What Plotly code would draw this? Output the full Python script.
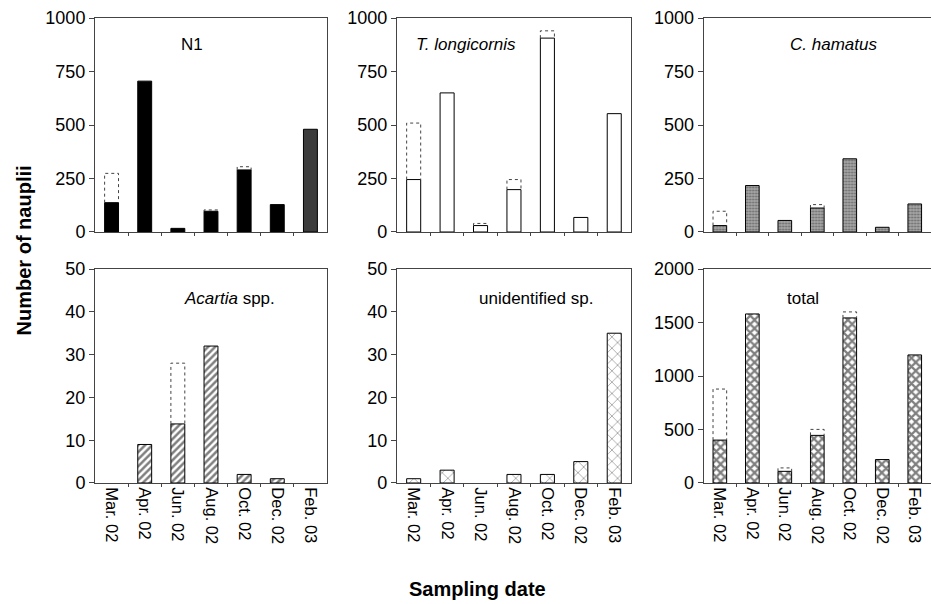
import plotly.graph_objects as go
from plotly.subplots import make_subplots

dates = ["Mar. 02", "Apr. 02", "Jun. 02", "Aug. 02", "Oct. 02", "Dec. 02", "Feb. 03"]

# solid (lower) values and dotted upper values per panel
n1_low = [137, 705, 17, 97, 290, 128, 480]
n1_up = [274, 705, 17, 103, 305, 128, 480]
tl_low = [245, 650, 30, 198, 906, 68, 553]
tl_up = [509, 650, 40, 245, 940, 68, 553]
ch_low = [30, 217, 54, 112, 342, 22, 131]
ch_up = [97, 217, 54, 128, 342, 22, 131]
ac_low = [0, 9, 13.8, 32, 2, 1, 0]
ac_up = [0, 9, 28, 32, 2, 1, 0]
un_low = [1, 3, 0, 2, 2, 5, 35]
un_up = [1, 3, 0, 2, 2, 5, 35]
tot_low = [401, 1580, 109, 445, 1543, 219, 1197]
tot_up = [878, 1580, 141, 501, 1599, 219, 1197]

titles = ["N1", "<i>T. longicornis</i>", "<i>C. hamatus</i>",
          "<i>Acartia</i> spp.", "unidentified sp.", "total"]
ymax = [1000, 1000, 1000, 50, 50, 2000]
ytickvals = [[0, 250, 500, 750, 1000]] * 3 + [[0, 10, 20, 30, 40, 50]] * 2 + [[0, 500, 1000, 1500, 2000]]

BW = 0.42
FONT = "Liberation Sans, Arial, sans-serif"

fig = make_subplots(rows=2, cols=3)

xdom = [[0.0, 0.2775], [0.3612, 0.6411], [0.728, 1.0]]
ydom = [[0.5398, 1.0], [0.0, 0.4602]]

styles = [
    dict(color=["#000000"] * 6 + ["#3c3c3c"]),
    dict(color="white"),
    dict(color="#8a8a8a", pattern=dict(shape=".", fgcolor="#2e2e2e", bgcolor="#a8a8a8", size=3, solidity=0.4)),
    dict(color="white", pattern=dict(shape="/", fgcolor="#000000", bgcolor="white", size=5, solidity=0.5)),
    dict(color="white", pattern=dict(shape="x", fgcolor="#000000", bgcolor="white", size=8, solidity=0.15)),
    dict(color="white", pattern=dict(shape="x", fgcolor="#000000", bgcolor="white", size=6, solidity=0.6)),
]

lows = [n1_low, tl_low, ch_low, ac_low, un_low, tot_low]
ups = [n1_up, tl_up, ch_up, ac_up, un_up, tot_up]
xpos = list(range(len(dates)))
title_pos = [(0.418, 0.874), (0.295, 0.874), (0.57, 0.874),
             (0.578, 0.864), (0.594, 0.864), (0.439, 0.864)]

for k in range(6):
    r, c = k // 3 + 1, k % 3 + 1
    m = dict(styles[k])
    m["line"] = dict(color="black", width=[1 if v > 0 else 0 for v in lows[k]])
    fig.add_trace(go.Bar(x=xpos, y=lows[k], width=BW, marker=m, showlegend=False), row=r, col=c)
    # dotted outline for upper values
    lx, ly = [], []
    for i, (lo, up) in enumerate(zip(lows[k], ups[k])):
        if up > lo:
            lx += [i - BW / 2, i - BW / 2, i + BW / 2, i + BW / 2, None]
            ly += [lo, up, up, lo, None]
    if lx:
        fig.add_trace(go.Scatter(x=lx, y=ly, mode="lines", line=dict(color="#444", width=1, dash="dot"),
                                 showlegend=False, hoverinfo="skip"), row=r, col=c)
    axn = "" if k == 0 else str(k + 1)
    fig.layout["xaxis" + axn].update(
        domain=xdom[c - 1], range=[-0.5, 6.5], tickvals=xpos, ticktext=dates,
        showticklabels=(r == 2), tickangle=90, ticks="", showline=True, mirror=True,
        linecolor="#444", linewidth=1, showgrid=False, zeroline=False,
        tickfont=dict(family=FONT, size=16.5, color="black"),
        minor=dict(tickvals=[i + 0.5 for i in xpos[:-1]], ticks="outside", ticklen=3, tickcolor="#444"),
    )
    fig.layout["yaxis" + axn].update(
        domain=ydom[r - 1], range=[0, ymax[k]], tickvals=ytickvals[k],
        ticks="outside", ticklen=5, tickcolor="#444", showline=True, mirror=True,
        linecolor="#444", linewidth=1, showgrid=False, zeroline=False,
        tickfont=dict(family=FONT, size=18, color="black"),
    )
    fig.add_annotation(text=titles[k], xref=f"x{axn} domain", yref=f"y{axn} domain",
                       x=title_pos[k][0], y=title_pos[k][1], xanchor="center", yanchor="middle",
                       showarrow=False, font=dict(family=FONT, size=17, color="black"))

fig.add_annotation(text="<b>Number of nauplii</b>", xref="paper", yref="paper",
                   x=-0.085, y=0.5, xanchor="center", yanchor="middle", textangle=-90,
                   showarrow=False, font=dict(family=FONT, size=20, color="black"))
fig.add_annotation(text="<b>Sampling date</b>", xref="paper", yref="paper",
                   x=0.458, y=-0.228, xanchor="center", yanchor="middle",
                   showarrow=False, font=dict(family=FONT, size=20, color="black"))

fig.update_layout(width=931, height=604, margin=dict(l=95, r=0, t=18, b=121),
                  plot_bgcolor="white", paper_bgcolor="white", bargap=0.5)

fig.write_html("out.html")
